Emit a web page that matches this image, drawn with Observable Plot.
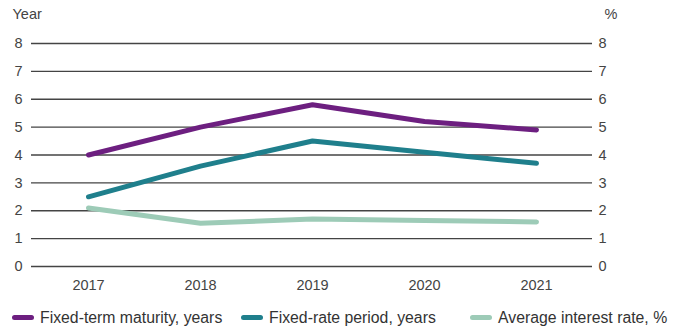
<!DOCTYPE html>
<html><head><meta charset="utf-8">
<script src="https://cdn.jsdelivr.net/npm/d3@7"></script>
<script src="https://cdn.jsdelivr.net/npm/@observablehq/plot@0.6"></script>
<style>
body{margin:0;background:#fff;font-family:"Liberation Sans",Arial,sans-serif;}
#legend{display:flex;height:35px;align-items:center;font-size:15.8px;color:#333;}
.item{display:flex;align-items:center;position:absolute;}
.sw{width:22px;height:5px;border-radius:3px;margin-right:6px;}
</style></head><body>
<div id="chart"></div>
<div id="legend" style="position:relative"></div>
<script>
const years = ["2017","2018","2019","2020","2021"];
const seriesNames = ["Fixed-term maturity, years","Fixed-rate period, years","Average interest rate, %"];
const fixedTerm = [4.0, 5.0, 5.8, 5.2, 4.9];
const fixedRate = [2.5, 3.6, 4.5, 4.1, 3.7];
const avgRate = [2.1, 1.55, 1.7, 1.65, 1.6];
const yTicks = [0,1,2,3,4,5,6,7,8];
const colors = ["#6d1f80","#1f7f8c","#9dcbb7"];

const all = [fixedTerm, fixedRate, avgRate];
const data = [];
all.forEach((vals, si) => vals.forEach((v, i) => data.push({series: seriesNames[si], year: years[i], value: v})));

const plot = Plot.plot({
  width: 678, height: 300,
  marginLeft: 31, marginRight: 86, marginTop: 43, marginBottom: 34,
  style: {fontFamily: '"Liberation Sans", Arial, sans-serif', fontSize: "14px", color: "#444"},
  x: {type: "point", domain: years, padding: 0.5, label: null},
  y: {domain: [0, 8], label: null},
  color: {domain: seriesNames, range: colors},
  marks: [
    Plot.ruleY(yTicks, {stroke: "#444", strokeWidth: 1.4}),
    Plot.axisY(yTicks, {anchor: "left", tickSize: 0, tickPadding: 9, label: null, fontSize: 14.5}),
    Plot.axisY(yTicks, {anchor: "right", tickSize: 0, tickPadding: 6, label: null, fontSize: 14.5}),
    Plot.axisX(years, {tickSize: 0, tickPadding: 13, label: null, fontSize: 14.5}),
    Plot.text(["Year"], {frameAnchor: "top-left", dx: -19, dy: -35, textAnchor: "start", fontSize: 14.5}),
    Plot.text(["%"], {frameAnchor: "top-right", dx: 12, dy: -35, textAnchor: "start", fontSize: 14.5}),
    Plot.line(data, {x: "year", y: "value", z: "series", stroke: "series", strokeWidth: 5, strokeLinecap: "round", strokeLinejoin: "round"})
  ]
});
document.getElementById("chart").appendChild(plot);

const legend = document.getElementById("legend");
const lx = [12, 241, 470];
seriesNames.forEach((n, i) => {
  const it = document.createElement("div");
  it.className = "item";
  it.style.left = lx[i] + "px";
  it.innerHTML = `<span class="sw" style="background:${colors[i]}"></span><span>${n}</span>`;
  legend.appendChild(it);
});
</script>
</body></html>
